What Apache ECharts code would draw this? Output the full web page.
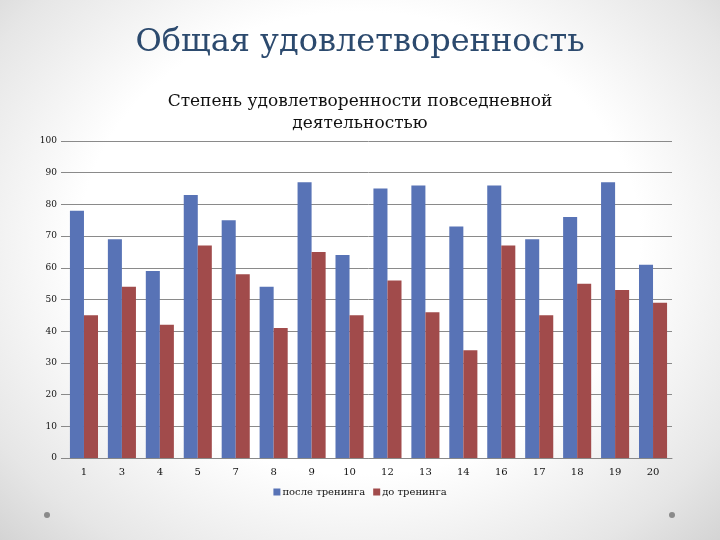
<!DOCTYPE html>
<html>
<head>
<meta charset="utf-8">
<script src="https://cdn.jsdelivr.net/npm/echarts@6/dist/echarts.min.js"></script>
<style>
  html, body { margin: 0; padding: 0; }
  body {
    width: 720px;
    height: 540px;
    background: radial-gradient(ellipse at 50% 45%, #ffffff 0%, #ffffff 55%, #e6e6e6 85%, #d4d4d4 100%);
  }
  #chart { width: 720px; height: 540px; }
</style>
</head>
<body>
<div id="chart"></div>
<script>
// participants (category labels)
const categories = ['1', '3', '4', '5', '7', '8', '9', '10', '12', '13', '14', '16', '17', '18', '19', '20']
// after training
const afterValues = [78, 69, 59, 83, 75, 54, 87, 64, 85, 86, 73, 86, 69, 76, 87, 61]
// before training
const beforeValues = [45, 54, 42, 67, 58, 41, 65, 45, 56, 46, 34, 67, 45, 55, 53, 49]
const seriesNames = ['после тренинга', 'до тренинга']

const serif = '"DejaVu Serif", "Liberation Serif", serif'

const chart = echarts.init(document.getElementById('chart'))
chart.setOption({
  backgroundColor: 'transparent',
  title: [
    {
      text: 'Общая удовлетворенность',
      left: 'center',
      top: 22,
      textStyle: {
        fontFamily: serif,
        fontSize: 32,
        fontWeight: 'normal',
        color: '#2c4a6e'
      }
    },
    {
      text: 'Степень удовлетворенности повседневной\nдеятельностью',
      left: 'center',
      top: 86,
      textStyle: {
        fontFamily: serif,
        fontSize: 17,
        fontWeight: 'normal',
        color: '#111',
        lineHeight: 22
      }
    }
  ],
  legend: {
    bottom: 38,
    left: 'center',
    itemWidth: 7,
    itemHeight: 7,
    itemGap: 8,
    icon: 'rect',
    textStyle: { fontFamily: serif, fontSize: 10, color: '#111', padding: [0, 0, 0, -3] },
    data: seriesNames
  },
  grid: {
    left: 65,
    right: 48,
    top: 141,
    bottom: 82
  },
  xAxis: {
    type: 'category',
    data: categories,
    axisLine: { lineStyle: { color: '#888' } },
    axisTick: { show: false },
    axisLabel: { fontFamily: serif, fontSize: 10, color: '#111', margin: 9 }
  },
  yAxis: {
    type: 'value',
    min: 0,
    max: 100,
    interval: 10,
    axisLine: { show: false },
    axisTick: { show: true, length: 4, lineStyle: { color: '#888' } },
    axisLabel: { fontFamily: serif, fontSize: 9, color: '#111', margin: 8 },
    splitLine: { lineStyle: { color: '#8a8a8a', width: 1 } }
  },
  series: [
    {
      name: seriesNames[0],
      type: 'bar',
      data: afterValues,
      barGap: '0%',
      barCategoryGap: '26%',
      itemStyle: { color: '#5873b6' }
    },
    {
      name: seriesNames[1],
      type: 'bar',
      data: beforeValues,
      itemStyle: { color: '#a14b4b' }
    }
  ],
  graphic: [
    { type: 'circle', shape: { cx: 47, cy: 515, r: 3 }, style: { fill: '#8a8a8a' } },
    { type: 'circle', shape: { cx: 672, cy: 515, r: 3 }, style: { fill: '#8a8a8a' } }
  ]
})
</script>
</body>
</html>
